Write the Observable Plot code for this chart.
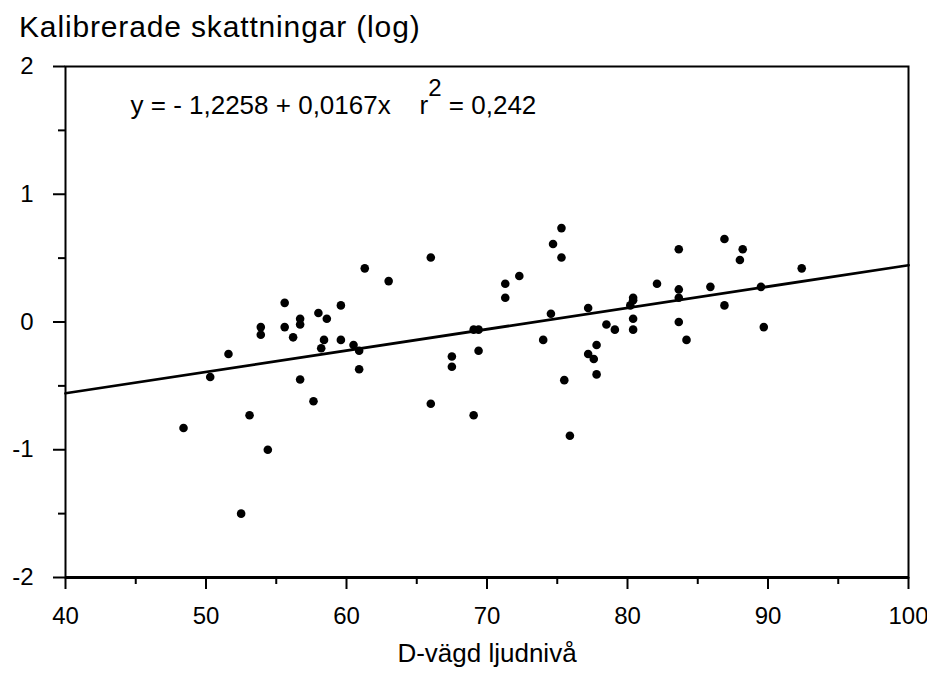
<!DOCTYPE html>
<html>
<head>
<meta charset="utf-8">
<script src="https://cdn.jsdelivr.net/npm/d3@7"></script>
<script src="https://cdn.jsdelivr.net/npm/@observablehq/plot@0.6"></script>
<style>
  html, body { margin: 0; padding: 0; background: #fff; }
  body { width: 927px; height: 673px; overflow: hidden; font-family: "Liberation Sans", Arial, Helvetica, sans-serif; }
  #title { height: 48px; box-sizing: border-box; padding-left: 19px; padding-top: 12px; font-size: 30px; line-height: 30px; letter-spacing: 0.85px; color: #000; white-space: nowrap; }
  svg { display: block; }
</style>
</head>
<body>
<div id="title">Kalibrerade skattningar (log)</div>
<div id="chart"></div>
<script>
// ---- data ----
const xValues = [48.4, 50.3, 51.6, 52.5, 53.1, 53.9, 53.9, 54.4, 55.6, 55.6,
  56.2, 56.7, 56.7, 56.7, 57.65, 58.0, 58.2, 58.4, 58.6, 59.6,
  59.6, 60.5, 60.9, 60.9, 61.3, 63.0, 66.0, 66.0, 67.5, 67.5,
  69.05, 69.4, 69.4, 69.05, 71.3, 71.3, 72.3, 74.0, 74.55, 74.7,
  75.3, 75.3, 75.5, 75.9, 77.2, 77.2, 77.6, 77.8, 77.8, 78.5,
  79.1, 80.2, 80.4, 80.4, 80.4, 80.4, 82.1, 83.65, 83.65, 83.65,
  83.65, 84.2, 85.9, 86.9, 86.9, 88.0, 88.2, 89.5, 89.7, 92.4];
const yValues = [-0.83, -0.43, -0.25, -1.50, -0.73, -0.04, -0.10, -1.00, 0.15, -0.04,
  -0.12, 0.025, -0.02, -0.45, -0.62, 0.07, -0.205, -0.14, 0.025, 0.13,
  -0.14, -0.18, -0.225, -0.37, 0.42, 0.32, 0.505, -0.64, -0.27, -0.35,
  -0.06, -0.06, -0.225, -0.73, 0.30, 0.19, 0.36, -0.14, 0.065, 0.61,
  0.735, 0.505, -0.455, -0.89, 0.11, -0.25, -0.29, -0.18, -0.41, -0.02,
  -0.06, 0.13, 0.19, 0.17, 0.025, -0.06, 0.30, 0.57, 0.255, 0.19,
  0.0, -0.14, 0.275, 0.65, 0.13, 0.485, 0.57, 0.275, -0.04, 0.42];
const xDomain = [40, 100];
const yDomain = [-2, 2];
const xMajorTicks = [40, 50, 60, 70, 80, 90, 100];
const xMinorTicks = [45, 55, 65, 75, 85, 95];
const yMajorTicks = [-2, -1, 0, 1, 2];
const yMinorTicks = [-1.5, -0.5, 0.5, 1.5];
const intercept = -1.2258;
const slope = 0.0167;
const eqMain = "y = - 1,2258 + 0,0167x    r";
const eqSup = "2";
const eqTail = " = 0,242";
const xLabel = "D-vägd ljudnivå";

// ---- build ----
const points = xValues.map((x, i) => ({x, y: yValues[i]}));
const fitLine = xDomain.map(x => ({x, y: intercept + slope * x}));
const fmt = d => String(d);
const font = "Liberation Sans, Arial, Helvetica, sans-serif";

const chart = Plot.plot({
  width: 927,
  height: 625,
  marginLeft: 65,
  marginRight: 19,
  marginTop: 18,
  marginBottom: 96,
  style: {fontFamily: font, background: "white", color: "black", overflow: "visible"},
  x: {domain: xDomain},
  y: {domain: yDomain},
  marks: [
    Plot.frame({stroke: "black", strokeWidth: 2}),
    Plot.axisX({ticks: xMajorTicks, tickSize: 12, tickPadding: 17, tickFormat: fmt, fontSize: 24, strokeWidth: 2, label: null}),
    Plot.axisX({ticks: xMinorTicks, tickSize: 7, tickFormat: () => "", strokeWidth: 2, label: null}),
    Plot.axisY({ticks: yMajorTicks, tickSize: 12, tickPadding: 20, tickFormat: fmt, fontSize: 24, strokeWidth: 2, label: null}),
    Plot.axisY({ticks: yMinorTicks, tickSize: 7, tickFormat: () => "", strokeWidth: 2, label: null}),
    Plot.ruleY([yDomain[0]], {stroke: "black", strokeWidth: 3}),
    Plot.line(fitLine, {x: "x", y: "y", stroke: "black", strokeWidth: 2.75}),
    Plot.dot(points, {x: "x", y: "y", r: 4.3, fill: "black", stroke: "none"}),
    Plot.text([eqMain + eqSup + eqTail], {frameAnchor: "top-left", dx: 65, dy: 29, textAnchor: "start", lineAnchor: "top", fontSize: 26, fill: "black"}),
    Plot.text([xLabel], {frameAnchor: "bottom", dy: 66, lineAnchor: "top", fontSize: 26, fill: "black"})
  ]
});
document.getElementById("chart").appendChild(chart);

// superscript for r^2
const full = eqMain + eqSup + eqTail;
d3.select(chart).selectAll("text").each(function() {
  if (this.textContent === full) {
    const t = d3.select(this).style("white-space", "pre").attr("xml:space", "preserve");
    t.text(null);
    t.append("tspan").text(eqMain);
    t.append("tspan").attr("dy", "-0.74em").attr("font-size", 24).text(eqSup);
    t.append("tspan").attr("dy", "0.68em").text(eqTail);
  }
});
</script>
</body>
</html>
